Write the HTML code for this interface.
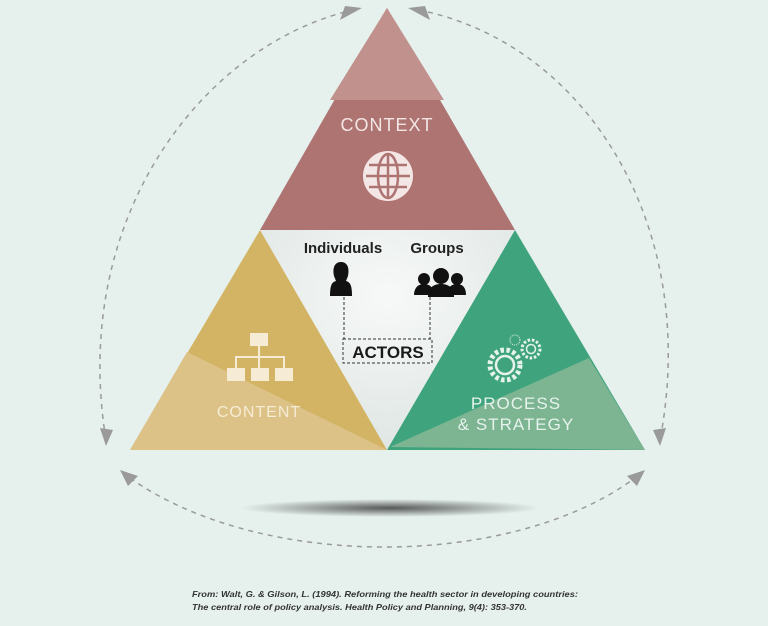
<!DOCTYPE html>
<html><head><style>
body{margin:0;background:#e6f1ee;}
svg{display:block}
text{font-family:"Liberation Sans",sans-serif}
</style></head><body>
<svg width="768" height="626" viewBox="0 0 768 626" xmlns="http://www.w3.org/2000/svg">
<defs>
<radialGradient id="sh" cx="50%" cy="50%" r="50%"><stop offset="0" stop-color="#333" stop-opacity="0.8"/><stop offset="1" stop-color="#333" stop-opacity="0"/></radialGradient>
<radialGradient id="cg" cx="50%" cy="30%" r="70%"><stop offset="0" stop-color="#f7f9f8"/><stop offset="1" stop-color="#dfe6e3"/></radialGradient>
</defs>
<rect width="768" height="626" fill="#e6f1ee"/>
<g fill="none" stroke="#9a9a9a" stroke-width="1.5" stroke-dasharray="5,5">
<path d="M345,12 C200,50 70,220 106,440"/>
<path d="M428,12 C590,50 700,230 660,440"/>
<path d="M130,478 C260,570 510,570 635,478"/>
</g>
<g fill="#9a9a9a">
<polygon points="362,8 340,20 345,6"/>
<polygon points="408,8 430,20 425,6"/>
<polygon points="106,446 100,428 113,430"/>
<polygon points="660,446 653,430 666,428"/>
<polygon points="120,470 138,476 128,486"/>
<polygon points="645,470 627,476 637,486"/>
</g>
<ellipse cx="390" cy="508" rx="150" ry="9" fill="url(#sh)"/>
<polygon points="260,230 515,230 387,450" fill="url(#cg)"/>
<polygon points="387,8 260,230 515,230" fill="#ad7472"/>
<polygon points="387,8 330,100 444,100" fill="#c0918d"/>
<polygon points="260,230 130,450 387,450" fill="#d3b465"/>
<polygon points="187,352 130,450 387,450" fill="#dcc287"/>
<polygon points="515,230 387,450 645,450" fill="#3fa47e"/>
<polygon points="390,447 589,358 645,450" fill="#7db492"/>
<text x="387" y="131" font-size="18" fill="#f3e6e4" text-anchor="middle" letter-spacing="1">CONTEXT</text>
<circle cx="388" cy="176" r="25" fill="#f3e6e4"/>
<g stroke="#ad7472" stroke-width="2.5" fill="none">
<ellipse cx="388" cy="176" rx="10" ry="22"/>
<line x1="388" y1="154" x2="388" y2="198"/>
<line x1="366" y1="176" x2="410" y2="176"/>
<path d="M369,165 H407 M369,187 H407"/>
</g>
<text x="259" y="417" font-size="16" fill="#f6ecd5" text-anchor="middle" letter-spacing="1">CONTENT</text>
<g fill="#f6ecd5" stroke="#f6ecd5">
<rect x="250" y="333" width="18" height="13" stroke="none"/>
<rect x="227" y="368" width="18" height="13" stroke="none"/>
<rect x="251" y="368" width="18" height="13" stroke="none"/>
<rect x="275" y="368" width="18" height="13" stroke="none"/>
<path d="M259,346 V368 M236,368 V357 H284 V368" fill="none" stroke-width="2"/>
</g>
<text x="516" y="409" font-size="17" fill="#e6f3ec" text-anchor="middle" letter-spacing="1">PROCESS</text>
<text x="516" y="430" font-size="17" fill="#e6f3ec" text-anchor="middle" letter-spacing="1">&amp; STRATEGY</text>
<g fill="none" stroke="#e6f3ec">
<circle cx="505" cy="365" r="15" stroke-width="5" stroke-dasharray="3.5,2.5"/>
<circle cx="505" cy="365" r="9" stroke-width="2.5"/>
<circle cx="531" cy="349" r="9" stroke-width="3" stroke-dasharray="2.5,1.8"/>
<circle cx="531" cy="349" r="4.5" stroke-width="1.5"/>
<circle cx="515" cy="340" r="5" stroke-width="1" stroke-dasharray="1,1"/>
</g>
<text x="343" y="253" font-size="15" font-weight="bold" fill="#222" text-anchor="middle">Individuals</text>
<text x="437" y="253" font-size="15" font-weight="bold" fill="#222" text-anchor="middle">Groups</text>
<g fill="#111">
<path d="M330,296 C330,285 332,282 336,281 L334,276 C332,266 336,262 341,262 C346,262 350,266 348,276 L346,281 C350,282 352,285 352,296 Z"/>
<circle cx="441" cy="276" r="8"/>
<circle cx="424" cy="279" r="6"/>
<circle cx="457" cy="279" r="6"/>
<path d="M414,295 C414,288 418,284 424,284 C430,284 434,288 434,295 Z"/>
<path d="M447,295 C447,288 451,284 457,284 C463,284 466,288 466,295 Z"/>
<path d="M428,297 C428,288 433,284 441,284 C449,284 454,288 454,297 Z"/>
</g>
<g fill="none" stroke="#333" stroke-width="1" stroke-dasharray="3,2">
<path d="M344,297 V339 H346"/>
<path d="M430,297 V339 H428"/>
<rect x="343" y="339" width="89" height="24"/>
</g>
<text x="388" y="358" font-size="17" font-weight="bold" fill="#1a1a1a" text-anchor="middle">ACTORS</text>
<text x="192" y="597" font-size="8.5" font-weight="bold" font-style="italic" fill="#333" textLength="386" lengthAdjust="spacingAndGlyphs">From: Walt, G. &amp; Gilson, L. (1994). Reforming the health sector in developing countries:</text>
<text x="192" y="610" font-size="8.5" font-weight="bold" font-style="italic" fill="#333" textLength="335" lengthAdjust="spacingAndGlyphs">The central role of policy analysis. Health Policy and Planning, 9(4): 353-370.</text>
</svg>
</body></html>
